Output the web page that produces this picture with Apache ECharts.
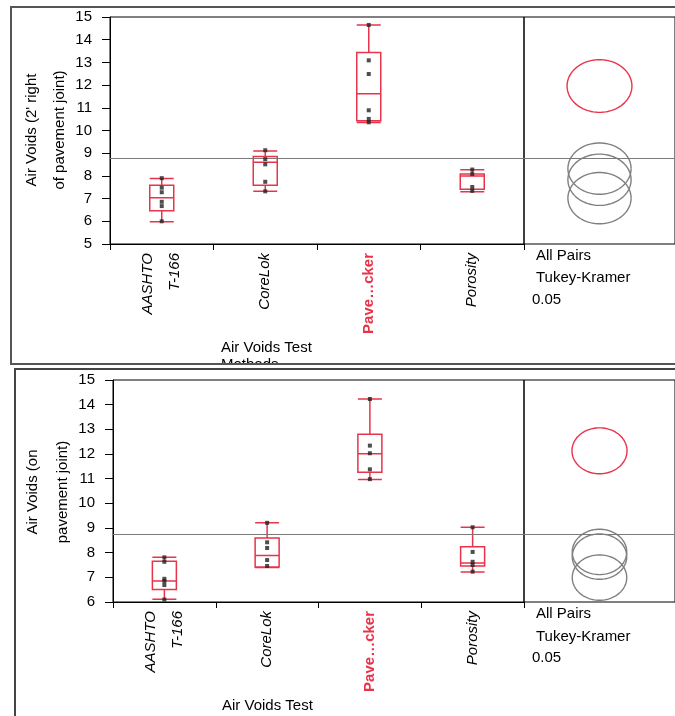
<!DOCTYPE html>
<html><head><meta charset="utf-8">
<script src="https://cdn.jsdelivr.net/npm/echarts@6/dist/echarts.min.js"></script>
<style>html,body{margin:0;padding:0;background:#fff;}#c{width:675px;height:716px;}</style>
</head><body><div id="c"></div>
<script>
const categories = ['AASHTO\nT-166', 'CoreLok', 'Pave…cker', 'Porosity'];
const topTicks = { min: 5, max: 15, step: 1 };
const botTicks = { min: 6, max: 15, step: 1 };
const topYName = "Air Voids (2' right\nof pavement joint)";
const botYName = 'Air Voids (on\npavement joint)';
// [min, Q1, median, Q3, max]
const topBoxes = [
  [5.98, 6.47, 7.04, 7.59, 7.88],
  [7.32, 7.59, 8.60, 8.86, 9.10],
  [10.35, 10.43, 11.62, 13.44, 14.65],
  [7.30, 7.41, 8.00, 8.08, 8.27]
];
const topPoints = [
  [7.90, 7.48, 7.28, 6.86, 6.67, 6.00],
  [9.13, 8.74, 8.51, 7.74, 7.32],
  [14.65, 13.09, 12.49, 10.89, 10.51, 10.36],
  [8.28, 8.08, 7.51, 7.34]
];
const topMean = 8.78;
const topCircleCenters = [11.96, 8.32, 7.83, 7.02];
const topCircleRadii = [1.16, 1.13, 1.13, 1.13];

const botBoxes = [
  [6.11, 6.51, 6.85, 7.65, 7.81],
  [7.40, 7.42, 7.89, 8.59, 9.21],
  [10.97, 11.26, 12.01, 12.80, 14.23],
  [7.22, 7.46, 7.58, 8.24, 9.03]
];
const botPoints = [
  [7.81, 7.63, 6.94, 6.85, 6.69, 6.10],
  [9.21, 8.42, 8.19, 7.70, 7.46],
  [14.23, 12.34, 12.03, 11.38, 10.98],
  [9.03, 8.03, 7.63, 7.50, 7.23]
];
const botMean = 8.73;
const botCircleCenters = [12.13, 8.03, 7.84, 6.99];
const botCircleRadii = [0.93, 0.92, 0.92, 0.92];

const RED = '#e8344a', GREY = '#808080';
const FONT = 'Liberation Sans, Arial, sans-serif';

function flatPts(pts) {
  const out = [];
  pts.forEach((arr, i) => arr.forEach(v => out.push([i, v])));
  return out;
}
function ellipseRender(params, api) {
  const c = api.coord([0, api.value(0)]);
  const s = api.size([api.value(1), api.value(1)]);
  const pts = [];
  for (let k = 0; k <= 96; k++) {
    const a = k / 96 * Math.PI * 2;
    pts.push([c[0] + s[0] * Math.cos(a), c[1] + s[1] * Math.sin(a)]);
  }
  return { type: 'polyline', shape: { points: pts }, style: { fill: null, stroke: api.visual('color'), lineWidth: 1.4 } };
}
function circleData(centers, radii, from, to) {
  const d = [];
  for (let i = from; i < to; i++) d.push([centers[i], radii[i]]);
  return d;
}
function yAxisCfg(gi, t) {
  return {
    gridIndex: gi, type: 'value', min: t.min, max: t.max, interval: t.step,
    axisLine: { show: true, lineStyle: { color: '#000', width: 1 } },
    axisTick: { show: true, length: 8, lineStyle: { color: '#000' } },
    axisLabel: { fontFamily: FONT, fontSize: 15, color: '#000', margin: 18 },
    splitLine: { show: false }
  };
}
function xAxisCfg(gi) {
  return {
    gridIndex: gi, type: 'category', data: categories, boundaryGap: true,
    axisLine: { show: true, lineStyle: { color: '#000' } },
    axisTick: { show: true, length: 6, lineStyle: { color: '#000' } },
    axisLabel: {
      rotate: 90, interval: 0, margin: 9, fontFamily: FONT, fontSize: 15, fontStyle: 'italic',
      color: '#000', lineHeight: 27,
      formatter: v => v === categories[2] ? '{red|' + v + '}' : v,
      rich: { red: { color: RED, fontWeight: 'bold', fontStyle: 'normal', fontFamily: FONT, fontSize: 15 } }
    }
  };
}
const hiddenX = (gi, r) => ({ gridIndex: gi, type: 'value', min: -r, max: r, show: false });
const hiddenY = (gi, t) => ({ gridIndex: gi, type: 'value', min: t.min, max: t.max, show: false });
const meanLine = v => ({ silent: true, symbol: 'none', label: { show: false },
  lineStyle: { color: '#7a7a7a', type: 'solid', width: 1.2 }, data: [{ yAxis: v }] });

const boxStyle = { color: 'rgba(0,0,0,0)', borderColor: RED, borderWidth: 1.5 };
const txt = (text, left, top) => ({ type: 'text', left, top, z: 10, style: { text, fontFamily: FONT, fontSize: 15, fill: '#000' } });
const vtxt = (text, x, y, lh) => ({ type: 'text', x, y, rotation: Math.PI / 2, z: 10,
  style: { text, fontFamily: FONT, fontSize: 15, fill: '#000', lineHeight: lh, align: 'center', verticalAlign: 'middle' } });

const chart = echarts.init(document.getElementById('c'), null, { renderer: 'canvas' });
chart.setOption({
  backgroundColor: '#fff',
  animation: false,
  grid: [
    { left: 110, top: 17, width: 414, height: 227, show: true, borderColor: '#000', borderWidth: 1 },
    { left: 524, top: 17, width: 154, height: 227, show: true, borderColor: '#000', borderWidth: 1 },
    { left: 113, top: 380, width: 411, height: 222, show: true, borderColor: '#000', borderWidth: 1 },
    { left: 524, top: 380, width: 154, height: 222, show: true, borderColor: '#000', borderWidth: 1 }
  ],
  xAxis: [xAxisCfg(0), hiddenX(1, 2.7), xAxisCfg(2), hiddenX(3, 2.55)],
  yAxis: [yAxisCfg(0, topTicks), hiddenY(1, topTicks), yAxisCfg(2, botTicks), hiddenY(3, botTicks)],
  series: [
    { type: 'boxplot', xAxisIndex: 0, yAxisIndex: 0, data: topBoxes, boxWidth: [24, 24], itemStyle: boxStyle, markLine: meanLine(topMean) },
    { type: 'scatter', xAxisIndex: 0, yAxisIndex: 0, data: flatPts(topPoints), symbol: 'rect', symbolSize: 4, itemStyle: { color: '#222' }, z: 5 },
    { type: 'custom', xAxisIndex: 1, yAxisIndex: 1, data: circleData(topCircleCenters, topCircleRadii, 0, 1), renderItem: ellipseRender, itemStyle: { color: RED } },
    { type: 'custom', xAxisIndex: 1, yAxisIndex: 1, data: circleData(topCircleCenters, topCircleRadii, 1, 4), renderItem: ellipseRender, itemStyle: { color: GREY }, markLine: meanLine(topMean) },

    { type: 'boxplot', xAxisIndex: 2, yAxisIndex: 2, data: botBoxes, boxWidth: [24, 24], itemStyle: boxStyle, markLine: meanLine(botMean) },
    { type: 'scatter', xAxisIndex: 2, yAxisIndex: 2, data: flatPts(botPoints), symbol: 'rect', symbolSize: 4, itemStyle: { color: '#222' }, z: 5 },
    { type: 'custom', xAxisIndex: 3, yAxisIndex: 3, data: circleData(botCircleCenters, botCircleRadii, 0, 1), renderItem: ellipseRender, itemStyle: { color: RED } },
    { type: 'custom', xAxisIndex: 3, yAxisIndex: 3, data: circleData(botCircleCenters, botCircleRadii, 1, 4), renderItem: ellipseRender, itemStyle: { color: GREY }, markLine: meanLine(botMean) }
  ],
  graphic: [
    vtxt(topYName, 46, 130, 28),
    vtxt(botYName, 48, 492, 30),
    txt('All Pairs', 536, 248),
    txt('Tukey-Kramer', 536, 270),
    txt('0.05', 532, 292),
    txt('All Pairs', 536, 606),
    txt('Tukey-Kramer', 536, 629),
    txt('0.05', 532, 650),
    { type: 'text', left: 221, top: 339, z: 10, style: { text: 'Air Voids Test\nMethods', fontFamily: FONT, fontSize: 15, lineHeight: 17, fill: '#000' } },
    { type: 'text', left: 222, top: 697, z: 10, style: { text: 'Air Voids Test\nMethods', fontFamily: FONT, fontSize: 15, lineHeight: 17, fill: '#000' } },
    { type: 'rect', z: 20, shape: { x: 0, y: 364, width: 675, height: 5 }, style: { fill: '#fff' } },
    { type: 'rect', z: 30, shape: { x: 11, y: 7, width: 700, height: 357 }, style: { fill: null, stroke: '#555', lineWidth: 2 } },
    { type: 'rect', z: 30, shape: { x: 15, y: 369, width: 700, height: 400 }, style: { fill: null, stroke: '#444', lineWidth: 2 } }
  ]
});
</script></body></html>
